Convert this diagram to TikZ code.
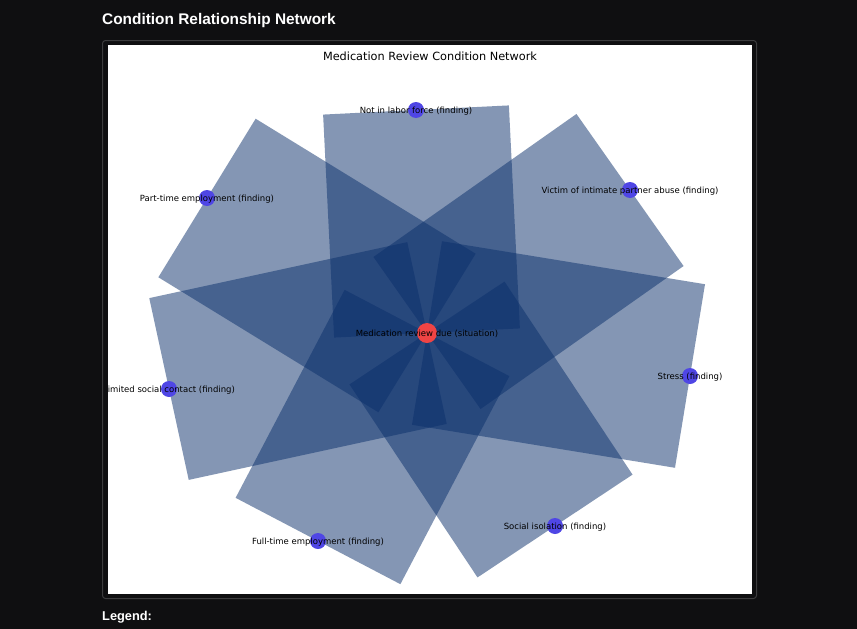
\documentclass[tikz,border=0pt]{standalone}
\usepackage{fontspec}
\setmainfont{DejaVu Sans}
\newfontfamily\uifont{Liberation Sans}
\usetikzlibrary{positioning}
\definecolor{pagedark}{HTML}{0F0F11}
\definecolor{panelgrey}{HTML}{3C3C3E}
\definecolor{edgenavy}{HTML}{0A2F6B}
\definecolor{hubred}{HTML}{EF4444}
\definecolor{leafblue}{HTML}{4F46E5}
\pgfdeclarelayer{frame}
\pgfdeclarelayer{ties}
\pgfsetlayers{frame,ties,main}
\tikzset{
  hub/.style={circle, fill=hubred, inner sep=0pt, minimum size=20pt},
  leaf/.style={circle, fill=leafblue, inner sep=0pt, minimum size=16pt},
  tie/.style={draw=edgenavy, draw opacity=0.5, line width=186pt, line cap=butt},
  lbl/.style={font=\fontsize{8.5}{10}\selectfont, text=black, inner sep=0pt, yshift=-1pt},
  headtext/.style={font=\uifont\bfseries\fontsize{15.4}{18}\selectfont, text=white, anchor=west, inner sep=0pt},
}

\begin{document}
\begin{tikzpicture}[x=1pt, y=-1pt]
  \useasboundingbox (0,0) rectangle (857,629);
  \begin{pgfonlayer}{frame}
    \fill[pagedark] (0,0) rectangle (857,629);
    \draw[panelgrey, rounded corners=3pt, line width=1pt] (102.5,40.5) rectangle (756.5,598.5);
    \fill[white] (108,45) rectangle (752,594);
  \end{pgfonlayer}
  \node[headtext] (heading) at (102,21) {Condition Relationship Network};
  \node[headtext, font=\uifont\bfseries\fontsize{12.8}{15}\selectfont] (legend) at (102,617) {Legend:};
  \node[font=\fontsize{11.3}{13}\selectfont, inner sep=0pt] (plottitle) at (430,56) {Medication Review Condition Network};

  % condition nodes
  \node[hub]  (review) at (427,333) {};
  \node[leaf] (labor)  at (416,110) {};
  \node[leaf] (abuse)  at (630,190) {};
  \node[leaf] (stress) at (690,376) {};
  \node[leaf] (isol)   at (555,526) {};
  \node[leaf] (fullt)  at (318,541) {};
  \node[leaf] (limit)  at (169,389) {};
  \node[leaf] (partt)  at (207,198) {};

  % relationships
  \begin{pgfonlayer}{ties}
    \clip (108,45) rectangle (752,594);
    \foreach \leafname in {labor,abuse,stress,isol,fullt,limit,partt}
      \draw[tie] (review.center) -- (\leafname.center);
  \end{pgfonlayer}

  % labels
  \begin{scope}
    \clip (108,45) rectangle (752,594);
    \node[lbl] (review-txt) at (review) {Medication review due (situation)};
    \node[lbl] (labor-txt)  at (labor)  {Not in labor force (finding)};
    \node[lbl] (abuse-txt)  at (abuse)  {Victim of intimate partner abuse (finding)};
    \node[lbl] (stress-txt) at (stress) {Stress (finding)};
    \node[lbl] (isol-txt)   at (isol)   {Social isolation (finding)};
    \node[lbl] (fullt-txt)  at (fullt)  {Full-time employment (finding)};
    \node[lbl] (limit-txt)  at (limit)  {Limited social contact (finding)};
    \node[lbl] (partt-txt)  at (partt)  {Part-time employment (finding)};
  \end{scope}
\end{tikzpicture}
\end{document}
